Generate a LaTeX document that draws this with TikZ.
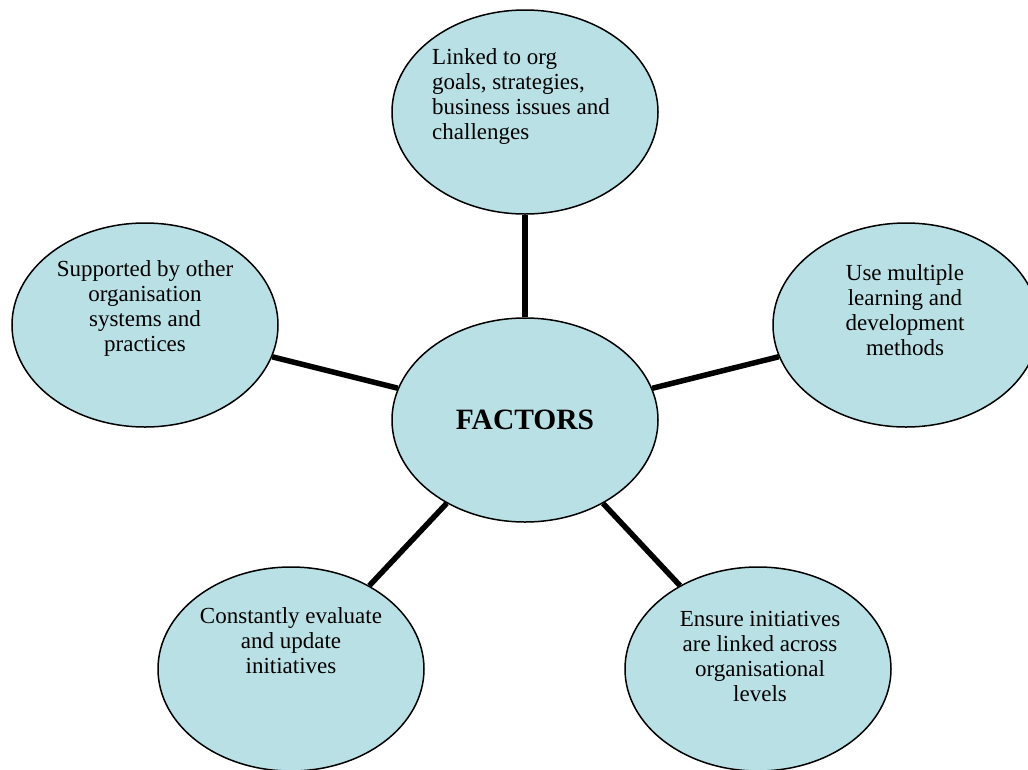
\documentclass[tikz,border=0pt]{standalone}
\usepackage{fontspec}
\setmainfont{Liberation Serif}
\usetikzlibrary{shapes.geometric}
\definecolor{bubblefill}{RGB}{185,224,228}

\begin{document}
\begin{tikzpicture}[x=1pt, y=-1pt,
    bubble/.style={ellipse, draw=black, line width=1.5pt, fill=bubblefill,
      minimum width=266pt, minimum height=204pt, inner sep=0pt},
    txt/.style={align=center, inner sep=0pt, font=\fontsize{23}{25}\selectfont},
    spoke/.style={line width=5.5pt}]
    \useasboundingbox (0,0) rectangle (1028,769);
    \clip (0,0) rectangle (1028,769);

    \coordinate (a0) at (525,420);
    \coordinate (a1) at (525,112);
    \coordinate (a2) at (906,325);
    \coordinate (a3) at (758,669);
    \coordinate (a4) at (291,669);
    \coordinate (a5) at (145,325);

    \node[bubble, font=\bfseries\fontsize{29.5}{30}\selectfont] (f0) at (a0) {FACTORS};
    \foreach \i in {1,...,5} \node[bubble] (f\i) at (a\i) {};

    \foreach \i in {1,...,5} \draw[spoke] (f0) -- (f\i);

    \node[txt, align=left, anchor=west] (t1) at (432,96.5)
      {Linked to org\\goals, strategies,\\business issues and\\challenges};
    \node[txt] (t2) at (905,310) {Use multiple\\learning and\\development\\methods};
    \node[txt] (t3) at (760,656) {Ensure initiatives\\are linked across\\organisational\\levels};
    \node[txt] (t4) at (291,641) {Constantly evaluate\\and update\\initiatives};
    \node[txt] (t5) at (145,308.5) {Supported by other\\organisation\\systems and\\practices};
  \end{tikzpicture}
\end{document}
